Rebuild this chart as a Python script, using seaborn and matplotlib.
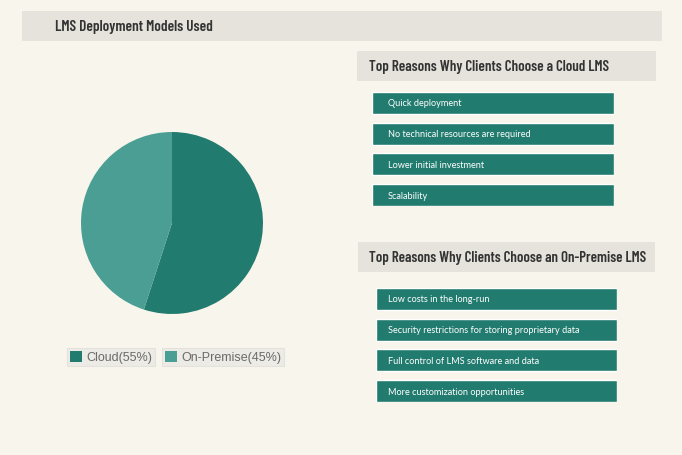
import matplotlib
matplotlib.use("Agg")
import matplotlib.pyplot as plt
import seaborn as sns
import pandas as pd
from matplotlib.patches import Rectangle, Patch

# data
models = ["Cloud", "On-Premise"]
shares = [55, 45]
cloud_reasons = ["Quick deployment", "No technical resources are required",
                 "Lower initial investment", "Scalability"]
onprem_reasons = ["Low costs in the long-run", "Security restrictions for storing proprietary data",
                  "Full control of LMS software and data", "More customization opportunities"]
cloud_fill = [1, 1, 1, 1]
onprem_fill = [1, 1, 1, 1]

BG = "#f8f5ec"
HEAD_BG = "#e6e3dc"
DARK = "#227b6f"
LIGHT = "#4a9e94"

sns.set_theme(style="white")
plt.rcParams["font.family"] = ["Lato", "DejaVu Sans"]
HEAD_FONT = ["Barlow Condensed", "Asap Condensed", "DejaVu Sans"]

W, H = 682, 456
fig = plt.figure(figsize=(W / 100, H / 100), dpi=100, facecolor=BG)
renderer = fig.canvas.get_renderer()


def box(x0, y0, x1, y1):
    # pixel box (top-left origin) -> figure fraction rect
    return [x0 / W, 1 - y1 / H, (x1 - x0) / W, (y1 - y0) / H]


def header(x0, y0, x1, y1, text, tx, width_px, size):
    l, b, w, h = box(x0, y0, x1, y1)
    fig.patches.append(Rectangle((l, b), w, h, transform=fig.transFigure,
                                 facecolor=HEAD_BG, edgecolor="none", zorder=0))
    t = fig.text(tx / W, b + h / 2, text, ha="left", va="center", fontsize=size,
                 fontweight="semibold", family=HEAD_FONT, color="#333333")
    # match the width seen in the reference
    cur = t.get_window_extent(renderer).width
    t.set_fontsize(size * width_px / cur)


header(22, 12, 662, 42, "LMS Deployment Models Used", 55, 158, 11)
header(357, 52, 656, 82, "Top Reasons Why Clients Choose a Cloud LMS", 369, 240, 12.5)
header(358, 243, 655, 273, "Top Reasons Why Clients Choose an On-Premise LMS", 369, 278, 12.5)

# pie
ax_pie = fig.add_axes(box(81, 133, 263, 315))
ax_pie.pie(shares, colors=[DARK, LIGHT], startangle=90, counterclock=False,
           wedgeprops=dict(edgecolor="none"))
ax_pie.set_xlim(-1, 1)
ax_pie.set_ylim(-1, 1)
ax_pie.set_aspect("equal")
ax_pie.axis("off")

# legend boxes
leg_pos = [(67, 349), (162, 349)]
for name, share, col, (px, py) in zip(models, shares, [DARK, LIGHT], leg_pos):
    leg = fig.legend(handles=[Patch(facecolor=col, edgecolor="none")],
                     labels=[f"{name}({share}%)"], loc="upper left",
                     bbox_to_anchor=(px / W, 1 - py / H), bbox_transform=fig.transFigure,
                     frameon=True, fancybox=False, borderpad=0.2, borderaxespad=0,
                     handlelength=1.0, handleheight=1.0, handletextpad=0.35,
                     prop={"family": ["Liberation Sans", "DejaVu Sans"], "size": 9})
    leg.get_frame().set_facecolor("#ebe9e5")
    leg.get_frame().set_edgecolor("#e2dfda")
    leg.get_frame().set_linewidth(0.8)
    for t in leg.get_texts():
        t.set_color("#6a6a6a")


def reason_bars(px, rect, reasons, fill):
    ax = fig.add_axes(box(*rect))
    df = pd.DataFrame({"reason": reasons, "fill": fill})
    sns.barplot(data=df, x="fill", y="reason", orient="h", color=DARK,
                width=0.71, saturation=1, ax=ax)
    ax.set_xlim(0, 1)
    ax.set_ylim(len(reasons) - 1 + 0.355, -0.355)
    ax.axis("off")
    # labels start at the same pixel column in both lists
    xoff = (px - rect[0]) / (rect[2] - rect[0])
    for i, r in enumerate(reasons):
        ax.text(xoff, i, r, transform=ax.get_yaxis_transform(), ha="left", va="center",
                color="white", fontsize=6.6)


reason_bars(388, (372, 93, 614, 207), cloud_reasons, cloud_fill)
reason_bars(388, (376, 289, 617, 403), onprem_reasons, onprem_fill)

fig.savefig("out.png", dpi=100, facecolor=BG)
